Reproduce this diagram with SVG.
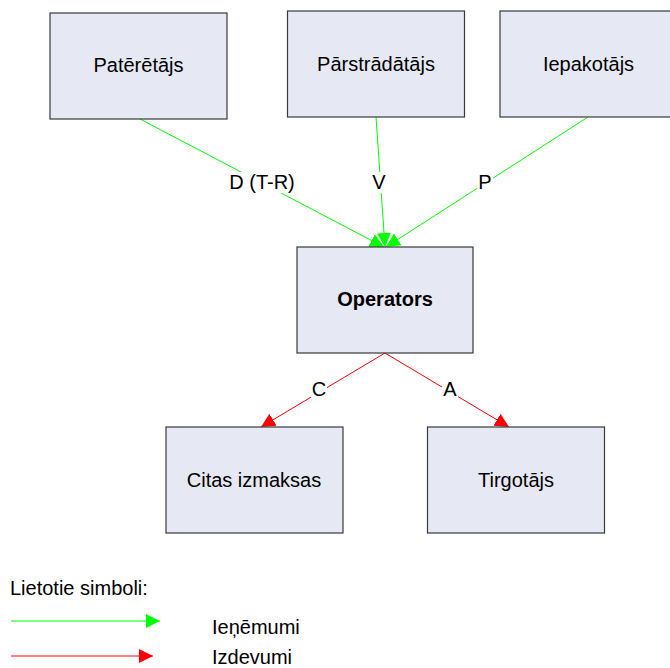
<svg xmlns="http://www.w3.org/2000/svg" width="670" height="668" viewBox="0 0 670 668">
<style>
.box{fill:#E6E9F3;stroke:#3a3a3a;stroke-width:1.2}
.t{font-family:"Liberation Sans",Arial,sans-serif;font-size:20px;fill:#000;text-anchor:middle}
.b{font-weight:bold}
.g{stroke:#00FF00;stroke-width:1;fill:none}
.r{stroke:#FF0000;stroke-width:1;fill:none}
.lbg{fill:#fff}
.l{font-family:"Liberation Sans",Arial,sans-serif;font-size:20px;fill:#000}
</style>
<defs>
<marker id="ag" markerUnits="userSpaceOnUse" markerWidth="16" markerHeight="16" viewBox="0 0 16 16" refX="14" refY="8" orient="auto"><path d="M0,1 L14,8 L0,15 Z" fill="#00FF00"/></marker>
<marker id="ar" markerUnits="userSpaceOnUse" markerWidth="16" markerHeight="16" viewBox="0 0 16 16" refX="14" refY="8" orient="auto"><path d="M0,1 L14,8 L0,15 Z" fill="#FF0000"/></marker>
</defs>
<rect width="670" height="668" fill="#fff"/>
<g id="connectors">
<line class="g" x1="140" y1="119" x2="384" y2="247" marker-end="url(#ag)"/>
<line class="g" x1="376" y1="117" x2="385" y2="247" marker-end="url(#ag)"/>
<line class="g" x1="588" y1="117" x2="386" y2="247" marker-end="url(#ag)"/>
<line class="r" x1="385" y1="353" x2="261" y2="427" marker-end="url(#ar)"/>
<line class="r" x1="385" y1="353" x2="509" y2="427" marker-end="url(#ar)"/>
<rect class="lbg" x="229" y="172" width="66" height="21"/>
<text class="t" x="262" y="189">D (T-R)</text>
<rect class="lbg" x="371" y="172" width="16" height="21"/>
<text class="t" x="379" y="189">V</text>
<rect class="lbg" x="477" y="172" width="16" height="21"/>
<text class="t" x="485" y="189">P</text>
<rect class="lbg" x="311" y="379" width="16" height="21"/>
<text class="t" x="319" y="396">C</text>
<rect class="lbg" x="442" y="379" width="16" height="21"/>
<text class="t" x="450" y="396">A</text>
</g>
<g id="pateretajs"><rect class="box" x="50" y="13" width="177" height="106"/><text class="t" x="138.5" y="72">Patērētājs</text></g>
<g id="parstradatajs"><rect class="box" x="287.5" y="11" width="177" height="106"/><text class="t" x="376" y="71">Pārstrādātājs</text></g>
<g id="iepakotajs"><rect class="box" x="500" y="11" width="177" height="106"/><text class="t" x="588.5" y="71">Iepakotājs</text></g>
<g id="operators"><rect class="box" x="297" y="247" width="176" height="106"/><text class="t b" x="385" y="306">Operators</text></g>
<g id="citas"><rect class="box" x="166" y="427" width="177" height="106"/><text class="t" x="254" y="487">Citas izmaksas</text></g>
<g id="tirgotajs"><rect class="box" x="427.5" y="427" width="177" height="106"/><text class="t" x="516" y="487">Tirgotājs</text></g>
<g id="legend">
<text class="l" x="10" y="595">Lietotie simboli:</text>
<line class="g" x1="11" y1="621" x2="160" y2="621" marker-end="url(#ag)"/>
<text class="l" x="212" y="634">Ieņēmumi</text>
<line class="r" x1="11" y1="656" x2="153" y2="656" marker-end="url(#ar)"/>
<text class="l" x="212" y="664">Izdevumi</text>
</g>
</svg>
